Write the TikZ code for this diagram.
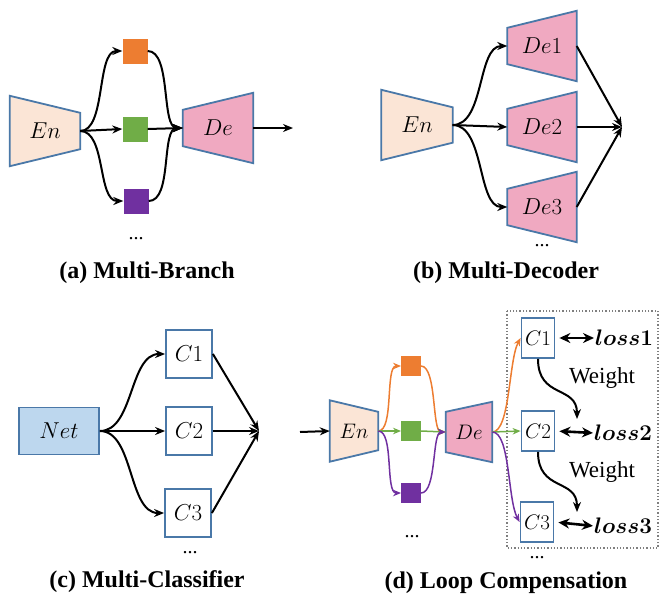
\documentclass[tikz,border=0pt]{standalone}
\usepackage{fix-cm}
\usepackage[no-math]{fontspec}
\setmainfont{Liberation Serif}
\usepackage{tikz}
\usetikzlibrary{arrows.meta,backgrounds}
\definecolor{edgeblue}{HTML}{4A78A8}
\definecolor{enfill}{HTML}{FBE5D6}
\definecolor{defill}{HTML}{F0A9C1}
\definecolor{netfill}{HTML}{BDD7EE}
\definecolor{branchorange}{HTML}{ED7D31}
\definecolor{branchgreen}{HTML}{70AD47}
\definecolor{branchpurple}{HTML}{7030A0}
\definecolor{framegrey}{HTML}{7F7F7F}
\tikzset{
  % ---- blocks ---------------------------------------------------------
  mtrap/.style={inner sep=0pt, font=\fontsize{23}{27}\selectfont},
  trapface/.style={draw=edgeblue, line width=1.8pt, line join=miter},
  msquare/.style={inner sep=0pt, minimum size=25pt},
  msmall/.style={inner sep=0pt, minimum size=19.5pt},
  mclass/.style={draw=edgeblue, line width=1.8pt, fill=white, inner sep=0pt,
    minimum width=46pt, minimum height=48pt, font=\fontsize{23}{27}\selectfont},
  mnet/.style={mclass, fill=netfill, minimum width=80pt, minimum height=47pt},
  % ---- texts ----------------------------------------------------------
  mcaption/.style={font=\fontsize{24}{28}\selectfont\bfseries},
  mweight/.style={font=\fontsize{23}{27}\selectfont},
  mdots/.style={font=\fontsize{20}{24}\selectfont, inner sep=0pt},
  mloss/.style={font=\fontsize{22.5}{26}\selectfont\boldmath, inner sep=0pt, anchor=west},
  % ---- connections ----------------------------------------------------
  mflow/.style={-{Stealth[length=10pt,width=8pt]}, line width=2pt},
  mcol/.style={-{Stealth[length=8pt,width=6.5pt]}, line width=1.5pt},
  mboth/.style={{Stealth[length=11pt,width=10pt]}-{Stealth[length=11pt,width=10pt]},
    line width=2.6pt},
  mframe/.style={draw=framegrey, dotted, line width=1.3pt},
}
% trapezium behind a node: narrow on the right (encoder) or on the left (decoder)
\newcommand{\entrap}[2]{\path[trapface, fill=enfill] (#1.north west)
  -- ([yshift=-#2]#1.north east) -- ([yshift=#2]#1.south east)
  -- (#1.south west) -- cycle;}
\newcommand{\detrap}[2]{\path[trapface, fill=defill] ([yshift=-#2]#1.north west)
  -- (#1.north east) -- (#1.south east)
  -- ([yshift=#2]#1.south west) -- cycle;}

\begin{document}
\begin{tikzpicture}[x=1pt,y=-1pt]
\useasboundingbox (0,0) rectangle (659,600);

% ---------------- (a) multi-branch -----------------------------------
\node[mtrap, minimum width=70pt, minimum height=70pt] (enA) at (45,131) {$En$};
\node[msquare, fill=branchorange] (orgA) at (135,51) {};
\node[msquare, fill=branchgreen] (grnA) at (135,129) {};
\node[msquare, fill=branchpurple] (purA) at (136,201) {};
\node[mtrap, minimum width=70pt, minimum height=70pt] (deA) at (218,128) {$De$};
\coordinate (outA) at (293,128);
\node[mdots] (dotsA) at (136,239) {...};
\node[mcaption] (capA) at (147,273) {(a) Multi-Branch};

\draw[mflow] (enA.east) .. controls +(26,0) and +(-26,0) .. (orgA.west);
\draw[mflow] (enA.east) -- (grnA.west);
\draw[mflow] (enA.east) .. controls +(26,0) and +(-26,0) .. (purA.west);
\draw[mflow] (orgA.east) .. controls +(24,0) and +(-22,0) .. (deA.west);
\draw[mflow] (grnA.east) -- (deA.west);
\draw[mflow] (purA.east) .. controls +(24,0) and +(-22,0) .. (deA.west);
\draw[mflow] (deA.east) -- (outA);

% ---------------- (b) multi-decoder ----------------------------------
\node[mtrap, minimum width=71pt, minimum height=70pt] (enB) at (417,125) {$En$};
\node[mtrap, minimum width=69pt, minimum height=70pt] (deB1) at (542,46) {$De1$};
\node[mtrap, minimum width=69pt, minimum height=70pt] (deB2) at (542,127) {$De2$};
\node[mtrap, minimum width=69pt, minimum height=70pt] (deB3) at (542,207) {$De3$};
\coordinate (joinB) at (622,127);
\node[mdots] (dotsB) at (542,246) {...};
\node[mcaption] (capB) at (506,273) {(b) Multi-Decoder};

\draw[mflow] (enB.east) .. controls +(32,0) and +(-30,0) .. (deB1.west);
\draw[mflow] (enB.east) -- (deB2.west);
\draw[mflow] (enB.east) .. controls +(32,0) and +(-30,0) .. (deB3.west);
\foreach \k in {1,2,3}
  \draw[mflow] (deB\k.east) -- (joinB);

% ---------------- (c) multi-classifier -------------------------------
\node[mnet] (netC) at (59,431) {$Net$};
\node[mclass] (cC1) at (189,354) {$C1$};
\node[mclass] (cC2) at (189,431) {$C2$};
\node[mclass] (cC3) at (188,513) {$C3$};
\coordinate (joinC) at (259,431);
\node[mdots] (dotsC) at (190,553) {...};
\node[mcaption] (capC) at (147,582) {(c) Multi-Classifier};

\draw[mflow] (netC.east) .. controls +(34,0) and +(-36,0) .. (cC1.west);
\draw[mflow] (netC.east) -- (cC2.west);
\draw[mflow] (netC.east) .. controls +(34,0) and +(-36,0) .. (cC3.west);
\foreach \k in {1,2,3}
  \draw[mflow] (cC\k.east) -- (joinC);

% ---------------- (d) loop compensation ------------------------------
\draw[mframe] (507,311) rectangle (658,548);

\coordinate (inD) at (300,432);
\node[mtrap, minimum width=48pt, minimum height=61pt, font=\fontsize{21}{25}\selectfont]
  (enD) at (354,431) {$En$};
\node[msmall, fill=branchorange] (orgD) at (411,366) {};
\node[msmall, fill=branchgreen] (grnD) at (411,431) {};
\node[msmall, fill=branchpurple] (purD) at (411,493) {};
\node[mtrap, minimum width=46pt, minimum height=60pt, font=\fontsize{21}{25}\selectfont]
  (deD) at (469,432) {$De$};
\node[mclass, minimum width=33pt, minimum height=40pt, font=\fontsize{21}{25}\selectfont]
  (cD1) at (538,338) {$C1$};
\node[mclass, minimum width=33pt, minimum height=40pt, font=\fontsize{21}{25}\selectfont]
  (cD2) at (538,431) {$C2$};
\node[mclass, minimum width=33pt, minimum height=40pt, font=\fontsize{21}{25}\selectfont]
  (cD3) at (537,522) {$C3$};
\node[mloss] (lossD1) at (595,338) {$loss1$};
\node[mloss] (lossD2) at (594,433) {$loss2$};
\node[mloss] (lossD3) at (594,526) {$loss3$};
\coordinate (wtD2) at (577,419);
\coordinate (wtD3) at (577,512);
\node[mweight] (wtA) at (602,378) {Weight};
\node[mweight] (wtB) at (602,472) {Weight};
\node[mdots] (dotsD) at (412,537) {...};
\node[mdots] (dotsE) at (537,558) {...};
\node[mcaption] (capD) at (506,583) {(d) Loop Compensation};

\draw[mflow] (inD) -- (enD.west);
\draw[mcol, draw=branchorange] (enD.east) .. controls +(16,0) and +(-16,0) .. (orgD.west);
\draw[mcol, draw=branchgreen] (enD.east) -- (grnD.west);
\draw[mcol, draw=branchpurple] (enD.east) .. controls +(16,0) and +(-16,0) .. (purD.west);
\draw[mcol, draw=branchorange] (orgD.east) .. controls +(16,0) and +(-14,0) .. (deD.west);
\draw[mcol, draw=branchgreen] (grnD.east) -- (deD.west);
\draw[mcol, draw=branchpurple] (purD.east) .. controls +(16,0) and +(-14,0) .. (deD.west);
\draw[mcol, draw=branchorange] (deD.east) .. controls +(18,0) and +(-12,22) .. (cD1.west);
\draw[mcol, draw=branchgreen] (deD.east) -- (cD2.west);
\draw[mcol, draw=branchpurple] (deD.east) .. controls +(18,0) and +(-12,-22) .. (cD3.west);
\foreach \k in {1,2,3}
  \draw[mboth, shorten <=4pt, shorten >=1pt] (cD\k.east) -- (lossD\k.west);
\draw[mflow] (cD1.south) .. controls +(0,40) and +(0,-34) .. (wtD2);
\draw[mflow] (cD2.south) .. controls +(0,40) and +(0,-34) .. (wtD3);

\begin{scope}[on background layer]
  \entrap{enA}{17pt}
  \detrap{deA}{17pt}
  \entrap{enB}{17.5pt}
  \foreach \k in {1,2,3}{\detrap{deB\k}{17pt}}
  \entrap{enD}{11.5pt}
  \detrap{deD}{10pt}
\end{scope}

\end{tikzpicture}
\end{document}
